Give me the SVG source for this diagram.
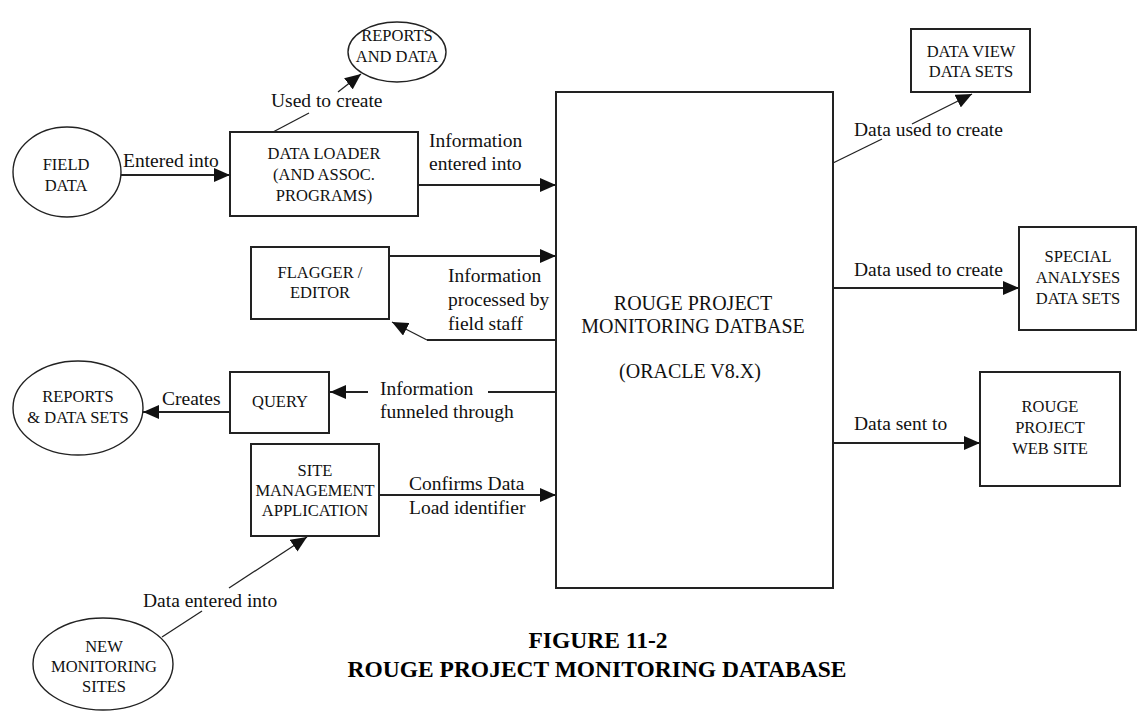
<svg xmlns="http://www.w3.org/2000/svg" width="1137" height="712" viewBox="0 0 1137 712">
<defs>
<style>
.box{fill:#fff;stroke:#222;stroke-width:2}
.ell{fill:#fff;stroke:#222;stroke-width:1.4}
.lbl{font-family:"Liberation Serif",serif;font-size:16.5px;fill:#111;text-anchor:middle}
.con{font-family:"Liberation Serif",serif;font-size:19.5px;fill:#111}
.db{font-family:"Liberation Serif",serif;font-size:20px;fill:#111;text-anchor:middle}
.cap{font-family:"Liberation Serif",serif;font-size:23.5px;font-weight:bold;fill:#000;text-anchor:middle}
.ln{fill:none;stroke:#222;stroke-width:2}
.thin{fill:none;stroke:#222;stroke-width:1.3}
</style>
<marker id="ah" viewBox="0 0 16 14" refX="16" refY="7" markerWidth="16" markerHeight="14" markerUnits="userSpaceOnUse" orient="auto">
<path d="M0,0 L16,7 L0,14 z" fill="#111"/>
</marker>
</defs>
<rect width="1137" height="712" fill="#fff"/>

<g id="connectors">
<line class="ln" x1="121" y1="175" x2="230" y2="175" marker-end="url(#ah)"/>
<text class="con" x="123" y="167">Entered into</text>
<line class="thin" x1="273" y1="132" x2="309" y2="113"/>
<line class="thin" x1="338" y1="92" x2="361" y2="74" marker-end="url(#ah)"/>
<text class="con" x="271" y="107">Used to create</text>
<line class="ln" x1="418" y1="185" x2="556" y2="185" marker-end="url(#ah)"/>
<text class="con" x="429" y="147">Information</text>
<text class="con" x="429" y="170">entered into</text>
<line class="ln" x1="389" y1="256" x2="556" y2="256" marker-end="url(#ah)"/>
<polyline class="ln" points="556,340 427,340"/>
<line class="thin" x1="427" y1="340" x2="392" y2="322" marker-end="url(#ah)"/>
<text class="con" x="448" y="282">Information</text>
<text class="con" x="448" y="306">processed by</text>
<text class="con" x="448" y="330">field staff</text>
<line class="ln" x1="556" y1="392" x2="488" y2="392"/>
<line class="ln" x1="368" y1="392" x2="330" y2="392" marker-end="url(#ah)"/>
<text class="con" x="380" y="395">Information</text>
<text class="con" x="380" y="418">funneled through</text>
<line class="ln" x1="230" y1="412" x2="143" y2="412" marker-end="url(#ah)"/>
<text class="con" x="162" y="405">Creates</text>
<line class="ln" x1="379" y1="495" x2="556" y2="495" marker-end="url(#ah)"/>
<text class="con" x="409" y="490">Confirms Data</text>
<text class="con" x="409" y="514">Load identifier</text>
<line class="thin" x1="162" y1="637" x2="202" y2="611"/>
<line class="thin" x1="229" y1="588" x2="307" y2="537" marker-end="url(#ah)"/>
<text class="con" x="143" y="607">Data entered into</text>
<line class="thin" x1="833" y1="163" x2="882" y2="139"/>
<line class="thin" x1="912" y1="124" x2="972" y2="94" marker-end="url(#ah)"/>
<text class="con" x="854" y="136">Data used to create</text>
<line class="ln" x1="833" y1="288" x2="1019" y2="288" marker-end="url(#ah)"/>
<text class="con" x="854" y="276">Data used to create</text>
<line class="ln" x1="833" y1="443" x2="980" y2="443" marker-end="url(#ah)"/>
<text class="con" x="854" y="430">Data sent to</text>
</g>

<g id="field-data">
<ellipse class="ell" cx="67" cy="172" rx="54" ry="45"/>
<text class="lbl" x="66" y="170">FIELD</text>
<text class="lbl" x="66" y="191">DATA</text>
</g>
<g id="reports-and-data">
<ellipse class="ell" cx="397" cy="52" rx="49" ry="30"/>
<text class="lbl" x="397" y="41">REPORTS</text>
<text class="lbl" x="397" y="62">AND DATA</text>
</g>
<g id="data-loader">
<rect class="box" x="230" y="132" width="188" height="84"/>
<text class="lbl" x="324" y="159">DATA LOADER</text>
<text class="lbl" x="324" y="180">(AND ASSOC.</text>
<text class="lbl" x="324" y="201">PROGRAMS)</text>
</g>
<g id="flagger-editor">
<rect class="box" x="251" y="247" width="138" height="72"/>
<text class="lbl" x="320" y="278">FLAGGER /</text>
<text class="lbl" x="320" y="298">EDITOR</text>
</g>
<g id="query">
<rect class="box" x="230" y="372" width="99" height="61"/>
<text class="lbl" x="280" y="407">QUERY</text>
</g>
<g id="reports-data-sets">
<ellipse class="ell" cx="78" cy="408" rx="65" ry="47"/>
<text class="lbl" x="78" y="402">REPORTS</text>
<text class="lbl" x="78" y="423">&amp; DATA SETS</text>
</g>
<g id="site-management">
<rect class="box" x="251" y="444" width="128" height="92"/>
<text class="lbl" x="315" y="476">SITE</text>
<text class="lbl" x="315" y="496">MANAGEMENT</text>
<text class="lbl" x="315" y="516">APPLICATION</text>
</g>
<g id="new-monitoring-sites">
<ellipse class="ell" cx="103" cy="664" rx="70" ry="46"/>
<text class="lbl" x="104" y="652">NEW</text>
<text class="lbl" x="104" y="672">MONITORING</text>
<text class="lbl" x="104" y="692">SITES</text>
</g>
<g id="database">
<rect class="box" x="556" y="92" width="277" height="496"/>
<text class="db" x="693" y="310">ROUGE PROJECT</text>
<text class="db" x="693" y="333">MONITORING DATBASE</text>
<text class="db" x="690" y="378">(ORACLE V8.X)</text>
</g>
<g id="data-view">
<rect class="box" x="911" y="29" width="119" height="63"/>
<text class="lbl" x="971" y="57">DATA VIEW</text>
<text class="lbl" x="971" y="77">DATA SETS</text>
</g>
<g id="special-analyses">
<rect class="box" x="1019" y="227" width="117" height="103"/>
<text class="lbl" x="1078" y="262">SPECIAL</text>
<text class="lbl" x="1078" y="283">ANALYSES</text>
<text class="lbl" x="1078" y="304">DATA SETS</text>
</g>
<g id="web-site">
<rect class="box" x="980" y="372" width="140" height="114"/>
<text class="lbl" x="1050" y="412">ROUGE</text>
<text class="lbl" x="1050" y="433">PROJECT</text>
<text class="lbl" x="1050" y="454">WEB SITE</text>
</g>
<g id="caption">
<text class="cap" x="598" y="648">FIGURE 11-2</text>
<text class="cap" x="597" y="677">ROUGE PROJECT MONITORING DATABASE</text>
</g>
</svg>
